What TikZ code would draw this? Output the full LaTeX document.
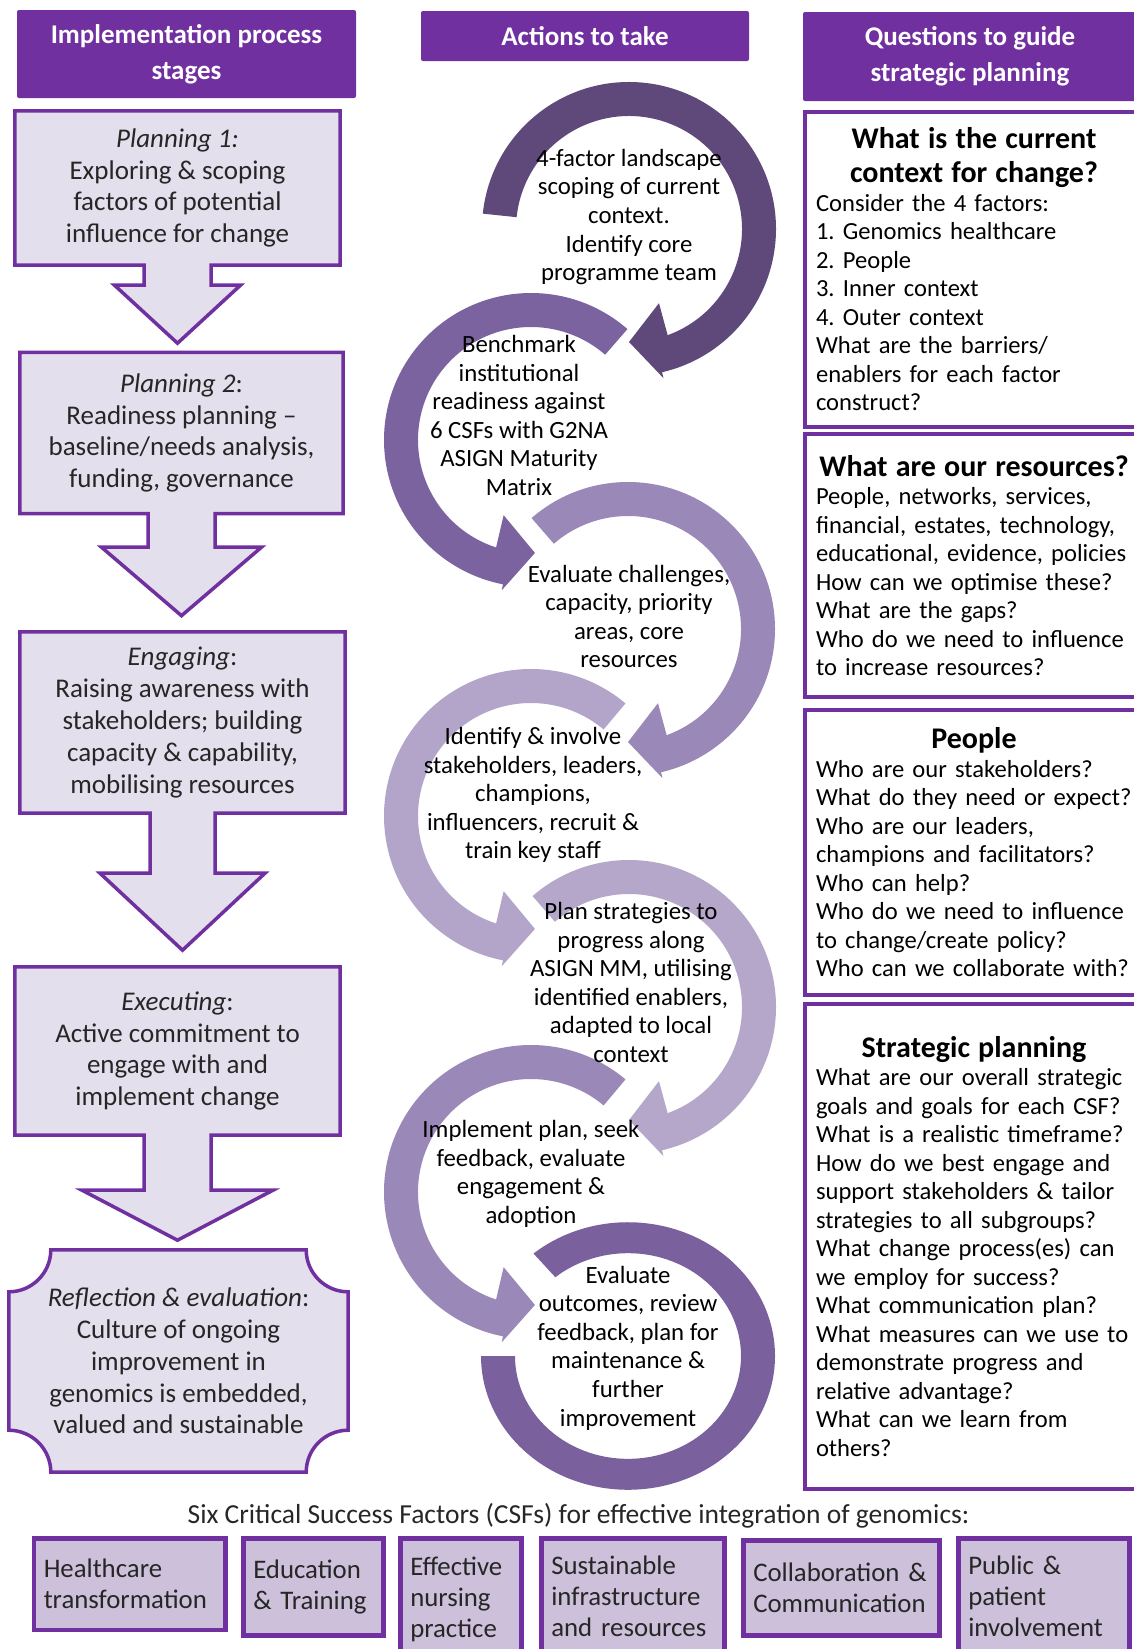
\documentclass[tikz,border=0pt]{standalone}
\usepackage{fontspec}
\setmainfont{Carlito}
\usepackage{tikz}
\usetikzlibrary{calc,backgrounds}
\frenchspacing

\definecolor{headpurple}{HTML}{7030A0}
\definecolor{stagefill}{HTML}{E4DFEC}
\definecolor{csffill}{HTML}{CCC0DA}
\definecolor{inktext}{HTML}{262626}
\definecolor{arrowone}{HTML}{5F497A}
\definecolor{arrowtwo}{HTML}{7B63A0}
\definecolor{arrowthree}{HTML}{9A88B8}
\definecolor{arrowfour}{HTML}{B3A5C9}
\definecolor{arrowfive}{HTML}{B5A7CA}
\definecolor{arrowsix}{HTML}{9A88B8}
\definecolor{arrowseven}{HTML}{7A619E}

\newcommand{\qtitle}{\fontsize{30}{34}\selectfont\bfseries}

% stage box with a down arrow under it
\newcommand{\stagecallout}[5]{% node, stem half width, head half width, stem length, head length
  \begin{scope}[on background layer]
    \draw[stageline] (#1.north west) -- (#1.north east) -- (#1.south east)
      -- ($(#1.south)+(#2,0)$) -- ($(#1.south)+(#2,-#4)$) -- ($(#1.south)+(#3,-#4)$)
      -- ($(#1.south)+(0,-#4-#5)$) -- ($(#1.south)+(-#3,-#4)$) -- ($(#1.south)+(-#2,-#4)$)
      -- ($(#1.south)+(-#2,0)$) -- (#1.south west) -- cycle;
  \end{scope}}

% last stage: box with hollow corners
\newcommand{\stageplaque}[2]{% node, corner radius
  \begin{scope}[on background layer]
    \draw[stageline] ($(#1.north west)+(#2,0)$) -- ($(#1.north east)+(-#2,0)$)
      arc[start angle=180, end angle=270, radius=#2pt] -- ($(#1.south east)+(0,#2)$)
      arc[start angle=90, end angle=180, radius=#2pt] -- ($(#1.south west)+(#2,0)$)
      arc[start angle=0, end angle=90, radius=#2pt] -- ($(#1.north west)+(0,-#2)$)
      arc[start angle=270, end angle=360, radius=#2pt] -- cycle;
  \end{scope}}

% thick ring arrow round a centre
\newcommand{\circarrow}[5]{% centre, start angle, tip angle, direction (1 cw, -1 ccw), colour
  \pgfmathsetmacro{\bodyend}{#3+#4*13}
  \pgfmathsetmacro{\barbin}{#3+#4*22}
  \pgfmathsetmacro{\innerend}{#3+#4*20}
  \fill[#5, shift={(#1)}] (#2:147) arc[start angle=#2, end angle=\bodyend, radius=147pt]
    -- (\bodyend:153) -- (#3:113) -- (\barbin:80) -- (\innerend:113)
    arc[start angle=\innerend, end angle=#2, radius=113pt] -- cycle;}

\begin{document}
\begin{tikzpicture}[
  x=1pt, y=1pt,
  header/.style={
    fill=headpurple,
    text=white,
    rounded corners=2pt,
    align=center,
    inner sep=0pt,
    font=\fontsize{27}{36}\selectfont\bfseries
  },
  stage/.style={
    align=center,
    inner sep=0pt,
    text=inktext,
    font=\fontsize{27}{31.8}\selectfont
  },
  stageline/.style={draw=headpurple, fill=stagefill, line width=3.5pt},
  action/.style={
    align=center,
    inner sep=0pt,
    text=black,
    font=\fontsize{24.8}{28.6}\selectfont
  },
  question/.style={
    draw=headpurple,
    fill=white,
    line width=4pt,
    anchor=north west,
    align=left,
    text width=316pt,
    inner xsep=11pt,
    inner ysep=0pt,
    text=black,
    font=\fontsize{24.6}{28.5}\selectfont
  },
  csf/.style={
    draw=headpurple,
    fill=csffill,
    line width=4.5pt,
    anchor=north west,
    align=left,
    inner xsep=10pt,
    inner ysep=0pt,
    text=inktext,
    font=\fontsize{26.8}{31}\selectfont
  }
]
  \begin{scope}[on background layer]
    \fill[white] (0,0) rectangle (1133,-1649);
  \end{scope}
  \useasboundingbox (0,0) rectangle (1133,-1649);

  % column headers
  \node[header, minimum width=339pt, minimum height=88pt] (hstages) at (186.5,-54) {Implementation process\\stages};
  \node[header, minimum width=328pt, minimum height=50pt] (hactions) at (585,-36) {Actions to take};
  \node[header, minimum width=334pt, minimum height=89pt] (hquestions) at (970,-56.5) {Questions to guide\\strategic planning};

  % implementation stages
  \node[stage, minimum width=325pt, minimum height=154pt] (scoping) at (177.5,-188)
    {\textit{Planning 1:}\\Exploring \& scoping\\factors of potential\\influence for change};
  \stagecallout{scoping}{33.5}{63}{20}{58}
  \node[stage, minimum width=323pt, minimum height=161pt] (readiness) at (181.5,-433)
    {\textit{Planning 2}:\\Readiness planning –\\baseline/needs analysis,\\funding, governance};
  \stagecallout{readiness}{33.5}{80}{33.5}{68.5}
  \node[stage, minimum width=325pt, minimum height=181pt] (engaging) at (182.5,-722.5)
    {\textit{Engaging}:\\Raising awareness with\\stakeholders; building\\capacity \& capability,\\mobilising resources};
  \stagecallout{engaging}{32.5}{82.5}{60}{77}
  \node[stage, minimum width=325pt, minimum height=168pt] (executing) at (177.5,-1051)
    {\textit{Executing}:\\Active commitment to\\engage with and\\implement change};
  \stagecallout{executing}{33.5}{95.5}{55}{50}
  \node[stage, minimum width=339pt, minimum height=222pt] (reflecting) at (178.5,-1361)
    {\textit{Reflection \& evaluation}:\\Culture of ongoing\\improvement in\\genomics is embedded,\\valued and sustainable};
  \stageplaque{reflecting}{42}

  % ring arrows down the middle
  \coordinate (ringone) at (629,-229);
  \coordinate (ringtwo) at (531,-440);
  \coordinate (ringthree) at (628,-629);
  \coordinate (ringfour) at (531,-816);
  \coordinate (ringfive) at (629,-1007);
  \coordinate (ringsix) at (531,-1192);
  \coordinate (ringseven) at (628,-1356);
  \circarrow{ringone}{174}{-90}{1}{arrowone}
  \circarrow{ringtwo}{49}{272}{-1}{arrowtwo}
  \circarrow{ringthree}{131}{-90}{1}{arrowthree}
  \circarrow{ringfour}{50}{272}{-1}{arrowfour}
  \circarrow{ringfive}{131}{-90}{1}{arrowfive}
  \circarrow{ringsix}{50}{272}{-1}{arrowsix}
  \fill[arrowseven, shift={(ringseven)}, yscale=0.91] (130:147) arc[start angle=130, end angle=-180, radius=147pt]
    -- (180:113) arc[start angle=-180, end angle=130, radius=113pt] -- cycle;

  \node[action] (actscope) at (629,-217) {4-factor landscape\\scoping of current\\context.\\Identify core\\programme team};
  \node[action] (actbench) at (519,-415.5) {Benchmark\\institutional\\readiness against\\6 CSFs with G2NA\\ASIGN Maturity\\Matrix};
  \node[action] (actchallenge) at (629,-616.5) {Evaluate challenges,\\capacity, priority\\areas, core\\resources};
  \node[action] (actinvolve) at (533,-795) {Identify \& involve\\stakeholders, leaders,\\champions,\\influencers, recruit \&\\train key staff};
  \node[action] (actplan) at (631,-982.5) {Plan strategies to\\progress along\\ASIGN MM, utilising\\identified enablers,\\adapted to local\\context};
  \node[action] (actimplement) at (531,-1174) {Implement plan, seek\\feedback, evaluate\\engagement \&\\adoption};
  \node[action] (actoutcome) at (628,-1348) {Evaluate\\outcomes, review\\feedback, plan for\\maintenance \&\\further\\improvement};

  % guiding questions
  \node[question, minimum height=315pt] (qcontext) at (803,-110)
    {{\centering\qtitle What is the current\\context for change?\par}
     Consider the 4 factors:\\1. Genomics healthcare\\2. People\\3. Inner context\\4. Outer context\\What are the barriers/\\enablers for each factor\\construct?};
  \node[question, minimum height=263pt] (qresource) at (803,-432)
    {{\centering\qtitle What are our resources?\par}
     People, networks, services,\\financial, estates, technology,\\educational, evidence, policies\\How can we optimise these?\\What are the gaps?\\Who do we need to influence\\to increase resources?};
  \node[question, minimum height=285pt] (qpeople) at (803,-708)
    {{\centering\qtitle People\par}
     Who are our stakeholders?\\What do they need or expect?\\Who are our leaders,\\champions and facilitators?\\Who can help?\\Who do we need to influence\\to change/create policy?\\Who can we collaborate with?};
  \node[question, minimum height=485pt] (qstrategy) at (803,-1002)
    {{\centering\qtitle Strategic planning\par}
     What are our overall strategic\\goals and goals for each CSF?\\What is a realistic timeframe?\\How do we best engage and\\support stakeholders \& tailor\\strategies to all subgroups?\\What change process(es) can\\we employ for success?\\What communication plan?\\What measures can we use to\\demonstrate progress and\\relative advantage?\\What can we learn from\\others?};

  % critical success factors
  \node[text=inktext, font=\fontsize{27.5}{30}\selectfont] (csfcaption) at (578.5,-1516)
    {Six Critical Success Factors (CSFs) for effective integration of genomics:};
  \node[csf, text width=171.5pt, minimum height=91.5pt] (csfhealth) at (31.5,-1536) {Healthcare\\transformation};
  \node[csf, text width=120pt, minimum height=97pt] (csfeducation) at (241,-1536) {Education\\\& Training};
  \node[csf, text width=101pt, minimum height=122pt] (csfnursing) at (398,-1536) {Effective\\nursing\\practice};
  \node[csf, text width=163pt, minimum height=116pt] (csfinfra) at (539,-1536) {Sustainable\\infrastructure\\and resources};
  \node[csf, text width=176pt, minimum height=95pt] (csfcollab) at (741,-1538) {Collaboration \&\\Communication};
  \node[csf, text width=151pt, minimum height=116pt] (csfpublic) at (956,-1536) {Public \&\\patient\\involvement};
\end{tikzpicture}
\end{document}
